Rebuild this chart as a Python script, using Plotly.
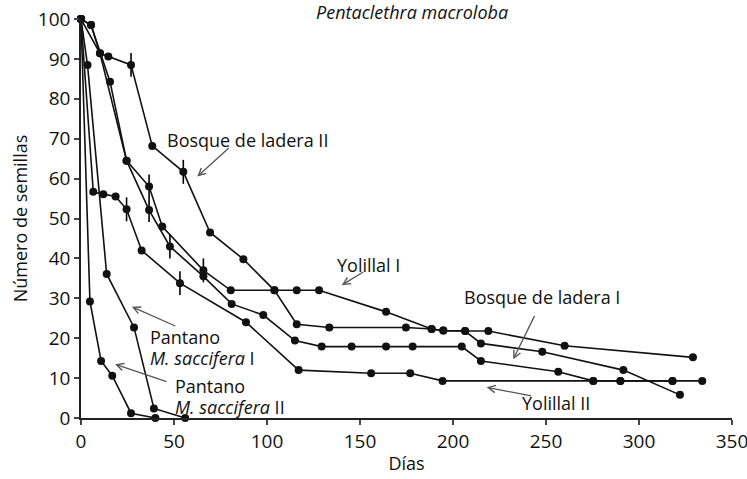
import plotly.graph_objects as go

# ---- data ----
bl2_x = [0, 5.4, 10.2, 14.7, 26.9, 38.3, 55, 69.4, 87.3, 104, 116, 133.5, 174.7, 188.5, 194.8, 206.5, 219, 260, 329]
bl2_y = [100, 98.5, 91.4, 90.6, 88.5, 68.2, 61.7, 46.5, 39.8, 32, 23.5, 22.7, 22.7, 22.3, 21.9, 21.8, 21.8, 18.1, 15.2]
bl2_e = [0, 0, 0, 0, 3, 0, 3, 0, 0, 0, 0, 0, 0, 0, 0, 0, 0, 0, 0]

yo1_x = [0, 5.4, 15.6, 24.5, 36.6, 43.7, 65.8, 80.5, 104, 116, 128, 164, 188.5, 194.8, 206.5, 215, 248, 291.6, 322]
yo1_y = [100, 98.5, 84.3, 64.5, 58, 48, 37, 32, 32, 32, 32, 26.6, 22.3, 21.9, 21.8, 18.7, 16.6, 12, 5.8]
yo1_e = [0, 0, 0, 0, 3, 0, 3, 0, 0, 0, 0, 0, 0, 0, 0, 0, 0, 0, 0]

bl1_x = [0, 10.2, 24.5, 36.6, 47.8, 65.8, 81, 98, 115, 129.4, 145.5, 164, 178.3, 204.7, 215, 256.6, 275.4, 290, 318]
bl1_y = [100, 91.4, 64.5, 52.1, 43, 35.5, 28.6, 25.8, 19.4, 17.9, 17.9, 17.9, 17.9, 17.9, 14.3, 11.6, 9.3, 9.3, 9.3]
bl1_e = [0, 0, 0, 3, 3, 0, 0, 0, 0, 0, 0, 0, 0, 0, 0, 0, 0, 0, 0]

yo2_x = [0, 6.6, 12, 18.6, 24.5, 32.6, 53.2, 88.7, 117, 156, 177, 194.4, 275.4, 290, 318, 334]
yo2_y = [100, 56.7, 56.1, 55.5, 52.3, 42, 33.8, 24, 12, 11.2, 11.2, 9.3, 9.3, 9.3, 9.3, 9.3]
yo2_e = [0, 0, 0, 0, 3, 0, 3, 0, 0, 0, 0, 0, 0, 0, 0, 0]

pm1_x = [0, 3.5, 13.8, 28.5, 39.2, 56]
pm1_y = [100, 88.5, 36.1, 22.7, 2.4, 0]

pm2_x = [0, 4.8, 10.8, 16.8, 26.9, 40]
pm2_y = [100, 29.2, 14.3, 10.6, 1.2, 0]

x_ticks = [0, 50, 100, 150, 200, 250, 300, 350]
y_ticks = [0, 10, 20, 30, 40, 50, 60, 70, 80, 90, 100]

FONT = "Open Sans"
fig = go.Figure()

def add(xs, ys, errs=None):
    kw = {}
    if errs is not None:
        kw["error_y"] = dict(type="data", array=errs, visible=True, color="black",
                             thickness=1.6, width=0)
    fig.add_trace(go.Scatter(x=xs, y=ys, mode="lines+markers",
                             line=dict(color="#111111", width=1.6),
                             marker=dict(color="#111111", size=8),
                             showlegend=False, cliponaxis=False, **kw))

add(bl2_x, bl2_y, bl2_e)
add(yo1_x, yo1_y, yo1_e)
add(bl1_x, bl1_y, bl1_e)
add(yo2_x, yo2_y, yo2_e)
add(pm1_x, pm1_y)
add(pm2_x, pm2_y)

arrow = dict(showarrow=True, arrowhead=5, arrowsize=1.1, arrowwidth=1.3,
             arrowcolor="#555555", axref="pixel", ayref="pixel", text="")
fig.add_annotation(x=62.5, y=60.5, ax=33, ay=-30, **arrow)
fig.add_annotation(x=140.2, y=33.3, ax=23, ay=-14, **arrow)
fig.add_annotation(x=232.4, y=14.7, ax=22, ay=-45, **arrow)
fig.add_annotation(x=218.1, y=7.7, ax=46, ay=9, **arrow)
fig.add_annotation(x=27.3, y=27.9, ax=45, ay=20, **arrow)
fig.add_annotation(x=18.3, y=13.5, ax=53, ay=18, **arrow)

lab = dict(showarrow=False, xanchor="left", yanchor="middle",
           font=dict(family=FONT, size=18, color="#111111"))
fig.add_annotation(x=45.2, y=69.7, text="Bosque de ladera II", **lab)
fig.add_annotation(x=136.6, y=38.3, text="Yolillal I", **lab)
fig.add_annotation(x=204.8, y=30.3, text="Bosque de ladera I", **lab)
fig.add_annotation(x=236, y=3.8, text="Yolillal II", **lab)
fig.add_annotation(x=36, y=20.3, text="Pantano", **lab)
fig.add_annotation(x=36, y=15.0, text="<i>M. saccifera</i> I", **lab)
fig.add_annotation(x=49.5, y=8.0, text="Pantano", **lab)
fig.add_annotation(x=49.5, y=2.8, text="<i>M. saccifera</i> II", **lab)

fig.add_annotation(x=0.508, xref="paper", y=1.0175, yref="paper", yanchor="middle",
                   text="<i>Pentaclethra macroloba</i>", showarrow=False,
                   font=dict(family=FONT, size=18, color="#111111"))

fig.update_layout(
    width=747, height=479,
    margin=dict(l=81, r=15, t=19, b=61),
    paper_bgcolor="white", plot_bgcolor="white",
    font=dict(family=FONT, size=18, color="#111111"),
)
fig.update_xaxes(range=[0, 350], tickvals=x_ticks, ticks="outside", ticklen=5,
                 tickwidth=1.5, showline=True, linecolor="#222222", linewidth=1.5,
                 showgrid=False, zeroline=False, automargin=False,
                 ticklabeloverflow="allow",
                 title=dict(text="Días", font=dict(family=FONT, size=18), standoff=5),
                 tickfont=dict(family=FONT, size=19))
fig.update_yaxes(range=[0, 100], tickvals=y_ticks, ticks="outside", ticklen=5,
                 tickwidth=1.5, showline=True, linecolor="#222222", linewidth=1.5,
                 showgrid=False, zeroline=False, automargin=False,
                 ticklabeloverflow="allow",
                 title=dict(text="Número de semillas", font=dict(family=FONT, size=18), standoff=6),
                 tickfont=dict(family=FONT, size=19))

fig.write_html("out.html", config={"displayModeBar": False},
               post_script="document.body.style.margin='0px';")
